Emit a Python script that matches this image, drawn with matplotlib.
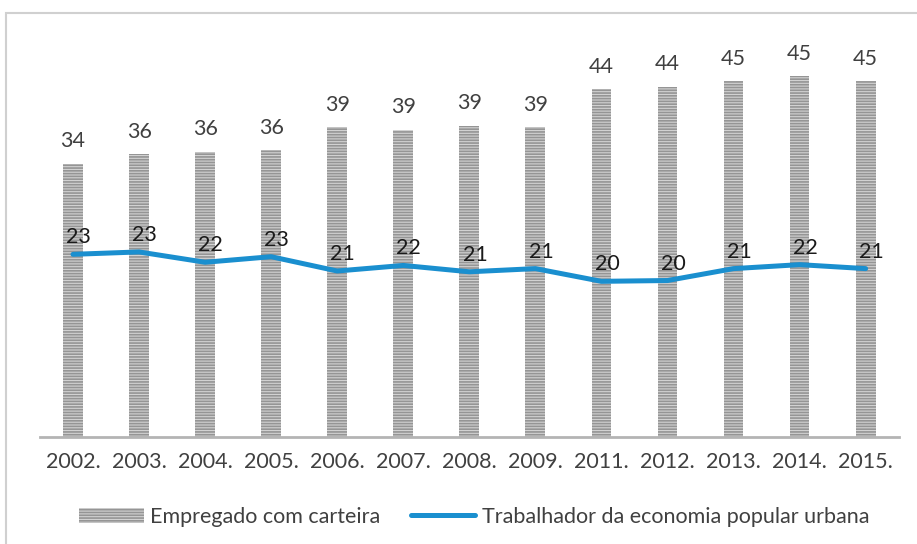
import numpy as np
import matplotlib.pyplot as plt
from matplotlib.patches import Rectangle
from matplotlib.lines import Line2D

plt.rcParams['font.family'] = ['Lato', 'DejaVu Sans']
plt.rcParams['hatch.linewidth'] = 1.2

years = ['2002.', '2003.', '2004.', '2005.', '2006.', '2007.', '2008.',
         '2009.', '2011.', '2012.', '2013.', '2014.', '2015.']
empregado = [34.4, 35.6, 35.9, 36.1, 39.0, 38.7, 39.2, 39.0, 43.8, 44.1, 44.8, 45.4, 44.8]
trabalhador = [23.0, 23.3, 22.0, 22.7, 20.9, 21.6, 20.8, 21.2, 19.6, 19.7, 21.2, 21.7, 21.2]

txt = '#404040'
blue = '#1a8fcf'
fs = 15.5

fig = plt.figure(figsize=(9.17, 5.44), dpi=100)
ax = fig.add_axes([0.0436, 0.1967, 0.9364, 0.73])

x = np.arange(len(years))
ax.bar(x, empregado, width=0.3, color='#d2d2d2', edgecolor='#959595',
       hatch='------', linewidth=0, zorder=2)
ax.plot(x, trabalhador, color=blue, lw=3.6, solid_capstyle='round', zorder=3)

for xi, v in zip(x, empregado):
    ax.annotate(f'{v:.0f}', (xi, v), xytext=(0, 9), textcoords='offset points',
                ha='center', va='bottom', fontsize=fs, color=txt)
for xi, v in zip(x, trabalhador):
    ax.annotate(f'{v:.0f}', (xi, v), xytext=(4, 5), textcoords='offset points',
                ha='center', va='bottom', fontsize=fs, color='#1a1a1a', zorder=4)

ax.set_xlim(-0.5, len(years) - 0.5)
ax.set_ylim(0, 50)
ax.set_xticks(x)
ax.set_xticklabels(years, fontsize=fs, color=txt)
ax.tick_params(axis='x', length=0, pad=11)
ax.set_yticks([])
for s in ['top', 'right', 'left']:
    ax.spines[s].set_visible(False)
ax.spines['bottom'].set_color('#b4b4b4')
ax.spines['bottom'].set_linewidth(2)

handles = [Rectangle((0, 0), 1, 1, facecolor='#d2d2d2', edgecolor='#959595',
                     hatch='------', linewidth=0),
           Line2D([0], [0], color=blue, lw=3.6, solid_capstyle='round')]
fig.legend(handles, ['Empregado com carteira', 'Trabalhador da economia popular urbana'],
           loc='center', bbox_to_anchor=(0.517, 0.05), ncol=2, frameon=False,
           fontsize=fs, labelcolor=txt, handlelength=3.0, handletextpad=0.3,
           columnspacing=1.4)

fig.patches.append(Rectangle((6 / 917, -0.05), 1.2, 0.05 + (544 - 13) / 544,
                             transform=fig.transFigure, fill=False,
                             edgecolor='#d0d0d0', lw=1.5))

fig.savefig('out.png', dpi=100)
